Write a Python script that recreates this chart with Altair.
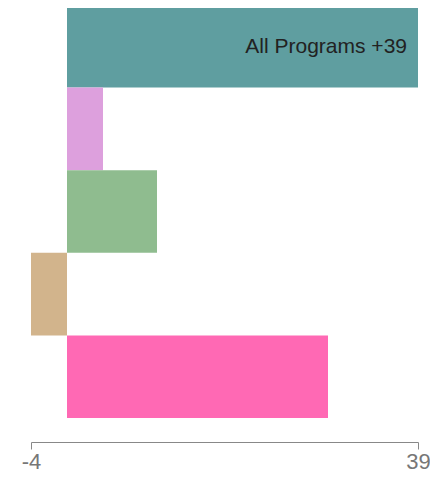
import altair as alt
import pandas as pd

categories = ["All Programs", "Program B", "Program C", "Program D", "Program E"]
values = [39, 4, 10, -4, 29]
colors = ["#5F9EA0", "#DDA0DD", "#8FBC8F", "#D2B48C", "#FF69B4"]
labels = ["All Programs +39", "", "", "", ""]

df = pd.DataFrame({"cat": categories, "value": values, "color": colors, "label": labels})

x = alt.X("value:Q",
          scale=alt.Scale(domain=[-4, 39], nice=False, zero=False),
          axis=alt.Axis(values=[-4, 39], title=None, grid=False, offset=21,
                        labelExpr="'' + datum.value",
                        domainColor="#888", tickColor="#888", tickSize=7,
                        labelColor="#777", labelFont="Arial", labelFontSize=22,
                        labelPadding=2, labelFlush=False))
y = alt.Y("cat:N", sort=categories, axis=None,
          scale=alt.Scale(paddingInner=0, paddingOuter=0, range=[-3, 410]))

bars = alt.Chart(df).mark_bar().encode(
    x=x, x2=alt.datum(0), y=y,
    color=alt.Color("color:N", scale=None)
)

text = alt.Chart(df).mark_text(align="right", baseline="middle", dx=-11, dy=1,
                               font="Arial", fontSize=21, color="#222").encode(
    x=alt.X("value:Q"), y=y, text="label:N"
)

chart = alt.layer(bars, text).properties(
    width=387, height=413,
    autosize=alt.AutoSizeParams(type="none"),
    padding={"left": 23, "top": 0, "right": 12, "bottom": 50}
).configure_view(stroke=None)

chart.save("out.html", embed_options={"renderer": "svg", "actions": False})
